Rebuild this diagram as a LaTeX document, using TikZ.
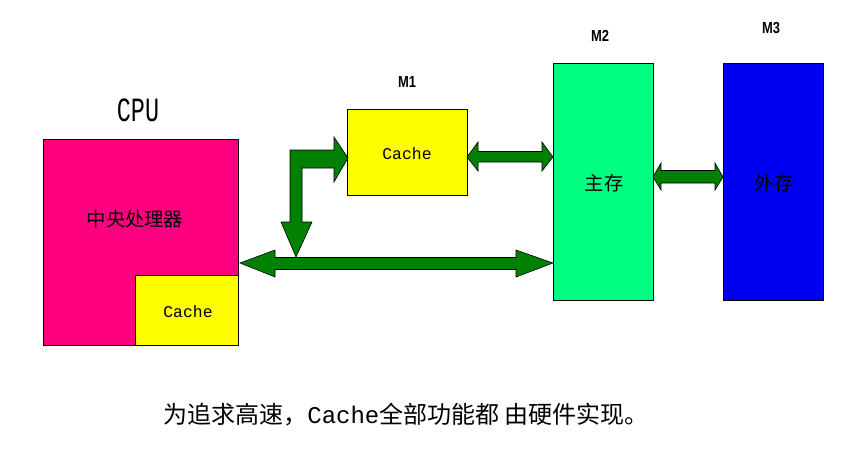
\documentclass[tikz,border=0pt]{standalone}
\usepackage{fontspec}
\newfontfamily\cjk{Noto Sans CJK SC}
\newfontfamily\monof{Liberation Mono}
\newfontfamily\sansf{Liberation Sans}
\definecolor{cpupink}{RGB}{255,0,128}
\definecolor{cacheyel}{RGB}{255,255,0}
\definecolor{mainmem}{RGB}{0,255,128}
\definecolor{extmem}{RGB}{0,0,240}
\definecolor{busgreen}{RGB}{0,128,0}
\tikzset{
  box/.style={draw=black, line width=0.6pt},
  bus/.style={fill=busgreen, draw=black, line width=0.5pt, line join=miter},
  lbl/.style={inner sep=0pt, text=black},
  mlbl/.style={inner sep=0pt, text=black, font=\fontsize{13}{15}\selectfont\sansf\bfseries},
}
\begin{document}
\begin{tikzpicture}[x=0.03cm, y=-0.03cm]
\useasboundingbox (0,0) rectangle (844,475);
% boxes
\path[box, fill=cpupink] (43,139) rectangle (238,345);
\node[lbl] (cpu) at (135,219) {\fontsize{16.5}{18}\selectfont\cjk 中央处理器};
\path[box, fill=cacheyel] (135,275) rectangle (238,345);
\node[lbl] (c0) at (188,312) {\fontsize{14}{16}\selectfont\monof Cache};
\node[lbl] (cpulbl) at (138,110) {\scalebox{1}[1.45]{\fontsize{20}{22}\selectfont\monof CPU}};

\path[box, fill=cacheyel] (347,109) rectangle (467,195);
\node[lbl] (c1) at (407,154) {\fontsize{14}{16}\selectfont\monof Cache};
\node[mlbl] (m1) at (407,82) {\scalebox{0.85}[1.05]{M1}};

\path[box, fill=mainmem] (553,63) rectangle (653,300);
\node[lbl] (zc) at (604,183) {\fontsize{16.5}{18}\selectfont\cjk 主存};
\node[mlbl] (m2) at (600,36) {\scalebox{0.85}[1.05]{M2}};

\path[box, fill=extmem] (723,63) rectangle (823,300);
\node[lbl] (wc) at (774,183) {\fontsize{16.5}{18}\selectfont\cjk 外存};
\node[mlbl] (m3) at (771,28) {\scalebox{0.85}[1.05]{M3}};

% buses
\path[bus] (240,263) -- (275,250) -- (275,257.5) -- (516,257.5) -- (516,250) -- (553,263)
  -- (516,277) -- (516,269.5) -- (275,269.5) -- (275,277) -- cycle;
\path[bus] (290,222) -- (290,150) -- (334,150) -- (334,137) -- (348,158) -- (334,182)
  -- (334,168) -- (302,168) -- (302,222) -- (312,222) -- (296,257) -- (281,222) -- cycle;
\path[bus] (467,157) -- (478,142) -- (478,151.5) -- (542,151.5) -- (542,142) -- (553,157)
  -- (542,171) -- (542,162) -- (478,162) -- (478,171) -- cycle;
\path[bus] (653,177) -- (661,163) -- (661,170.5) -- (715,170.5) -- (715,163) -- (723,177)
  -- (715,190) -- (715,183) -- (661,183) -- (661,190) -- cycle;

% caption
\node[lbl, anchor=west] (cap) at (163,415) {\fontsize{20.5}{24}\selectfont{\cjk 为追求高速，}{\monof Cache}{\cjk 全部功能都 由硬件实现。}};
\end{tikzpicture}
\end{document}
